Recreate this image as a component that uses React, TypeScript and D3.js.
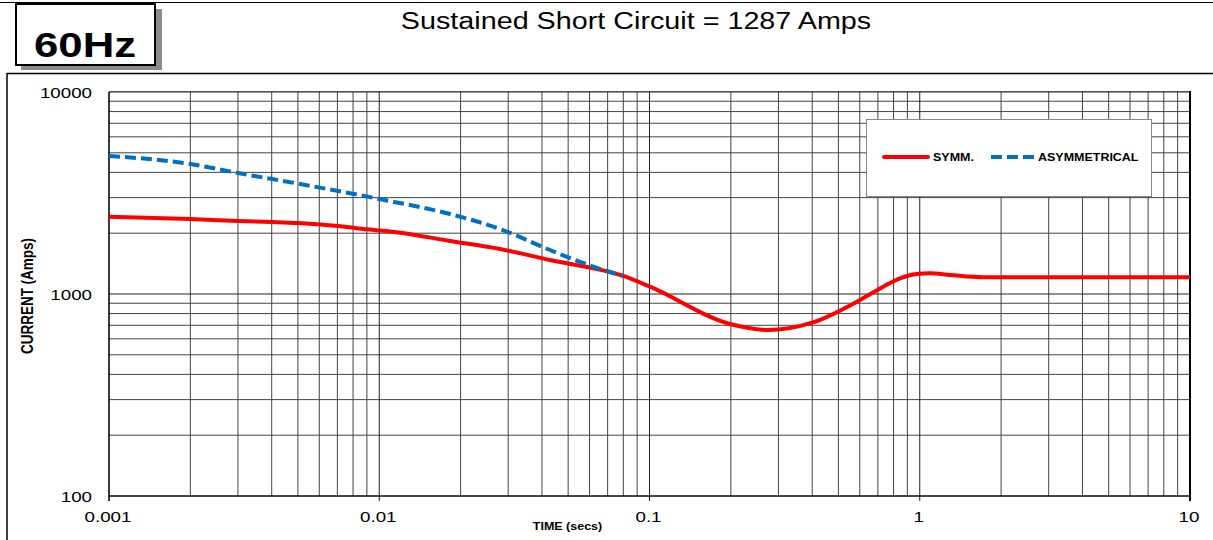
import React from "react";
import * as d3 from "d3";

const symmTime = [0.001, 0.002, 0.003, 0.004, 0.005, 0.007, 0.009, 0.01194, 0.01827, 0.02798, 0.04283, 0.08, 0.1004, 0.1986, 0.2752, 0.3993, 0.6012, 0.733, 0.8451, 0.974, 1.091, 1.294, 1.718, 10];
const symmAmps = [2415, 2351, 2298, 2272, 2246, 2171, 2091, 2012, 1830, 1670, 1473, 1228, 1087, 710, 663, 721, 934, 1087, 1196, 1256, 1266, 1242, 1210, 1210];

const asymTime = [0.001, 0.002, 0.003, 0.00509, 0.01, 0.01827, 0.02798, 0.04283, 0.05675, 0.08];
const asymAmps = [4823, 4402, 3972, 3504, 2953, 2489, 2098, 1651, 1424, 1228];

const xTickValues = [0.001, 0.01, 0.1, 1, 10];
const xTickLabels = ["0.001", "0.01", "0.1", "1", "10"];
const yTickValues = [100, 1000, 10000];
const yTickLabels = ["100", "1000", "10000"];

const title = "Sustained Short Circuit = 1287 Amps";
const freqLabel = "60Hz";
const xAxisTitle = "TIME (secs)";
const yAxisTitle = "CURRENT (Amps)";
const seriesNames = ["SYMM.", "ASYMMETRICAL"];

const FONT = "'Liberation Sans', Arial, sans-serif";
const SX = 1.25;

export default function App() {
  const x = d3.scaleLog().domain([0.001, 10]).range([109, 1190]);
  const y = d3.scaleLog().domain([100, 10000]).range([496, 92]);

  const xMinor: number[] = [];
  for (let d = 0.001; d < 10; d *= 10) {
    for (let k = 2; k <= 9; k++) xMinor.push(+(d * k).toPrecision(3));
  }
  const yMinor: number[] = [];
  for (let d = 100; d < 10000; d *= 10) {
    for (let k = 2; k <= 9; k++) yMinor.push(d * k);
  }

  const line = d3
    .line<[number, number]>()
    .x((d) => x(d[0]))
    .y((d) => y(d[1]))
    .curve(d3.curveMonotoneX);

  const symmPath = line(symmTime.map((t, i) => [t, symmAmps[i]]) as [number, number][]) || "";
  const asymPath = line(asymTime.map((t, i) => [t, asymAmps[i]]) as [number, number][]) || "";

  const gridColor = "#444";
  const [x0, x1] = x.range();
  const [y0, y1] = y.range();

  const sText = (
    tx: number,
    ty: number,
    s: string,
    opts: { size: number; weight?: string; anchor?: string; rotate?: number }
  ) => (
    <text
      transform={`translate(${tx},${ty}) scale(${SX},1)${opts.rotate ? ` rotate(${opts.rotate})` : ""}`}
      fontFamily={FONT}
      fontSize={opts.size}
      fontWeight={opts.weight || "normal"}
      textAnchor={opts.anchor || "start"}
      fill="#000"
    >
      {s}
    </text>
  );

  return (
    <svg
      width={1213}
      height={540}
      style={{ position: "absolute", left: 0, top: 0, background: "#fff" }}
    >
      <rect x={0} y={0} width={1213} height={540} fill="#fff" />
      {/* top frame lines */}
      <line x1={0} x2={1213} y1={2.5} y2={2.5} stroke="#000" strokeWidth={1.2} />
      <line x1={7} x2={1213} y1={73.5} y2={73.5} stroke="#000" strokeWidth={1.5} />
      <line x1={7} x2={7} y1={73} y2={540} stroke="#000" strokeWidth={1.5} />

      {/* 60Hz box */}
      <rect x={21} y={9} width={141} height={61} fill="#8c8c8c" />
      <rect x={16} y={4} width={139} height={61} fill="#fff" stroke="#000" strokeWidth={2} />
      {sText(34, 57, freqLabel, { size: 35, weight: "bold" })}

      {/* title */}
      {sText(636, 29, title, { size: 23, anchor: "middle" })}

      {/* grid */}
      {yMinor.map((v) => (
        <line key={"ym" + v} x1={x0} x2={x1} y1={y(v)} y2={y(v)} stroke={gridColor} strokeWidth={1} />
      ))}
      {xMinor.map((v) => (
        <line key={"xm" + v} x1={x(v)} x2={x(v)} y1={y1} y2={y0} stroke={gridColor} strokeWidth={1} />
      ))}
      {yTickValues.map((v) => (
        <line key={"yM" + v} x1={x0} x2={x1} y1={y(v)} y2={y(v)} stroke="#222" strokeWidth={1} />
      ))}
      {xTickValues.map((v) => (
        <line key={"xM" + v} x1={x(v)} x2={x(v)} y1={y1} y2={y0 + 5} stroke="#222" strokeWidth={1} />
      ))}
      {/* frame */}
      <line x1={x0} x2={x1} y1={y1 - 0.5} y2={y1 - 0.5} stroke="#555" strokeWidth={1} />
      <line x1={x0} x2={x0} y1={y1} y2={y0 + 5} stroke="#000" strokeWidth={1.2} />
      <line x1={x0} x2={x1} y1={y0} y2={y0} stroke="#000" strokeWidth={1.2} />
      <line x1={x1} x2={x1} y1={y1 - 1} y2={y0 + 5} stroke="#000" strokeWidth={2} />

      {/* tick labels */}
      {yTickValues.map((v, i) => (
        <g key={"yl" + v}>{sText(92, y(v) + 5.5, yTickLabels[i], { size: 15, anchor: "end" })}</g>
      ))}
      {xTickValues.map((v, i) => (
        <g key={"xl" + v}>{sText(x(v) - 1, 521.5, xTickLabels[i], { size: 15, anchor: "middle" })}</g>
      ))}

      {/* axis titles */}
      {sText(567.5, 530, xAxisTitle, { size: 10, weight: "bold", anchor: "middle" })}
      {sText(32.5, 296, yAxisTitle, { size: 13.5, weight: "bold", anchor: "middle", rotate: -90 })}

      {/* series */}
      <path d={symmPath} fill="none" stroke="#ff0000" strokeWidth={4} strokeLinejoin="round" />
      <path d={asymPath} fill="none" stroke="#0070c0" strokeWidth={4} strokeDasharray="11,5" />

      {/* legend */}
      <rect x={866.5} y={119.5} width={285} height={77} fill="#fff" stroke="#888" strokeWidth={1} />
      <line x1={884} x2={928} y1={157} y2={157} stroke="#ff0000" strokeWidth={4} strokeLinecap="round" />
      {sText(933, 161, seriesNames[0], { size: 10, weight: "bold" })}
      <line x1={991} x2={1034} y1={157} y2={157} stroke="#0070c0" strokeWidth={4} strokeDasharray="11,5" />
      {sText(1038, 161, seriesNames[1], { size: 10, weight: "bold" })}
    </svg>
  );
}
